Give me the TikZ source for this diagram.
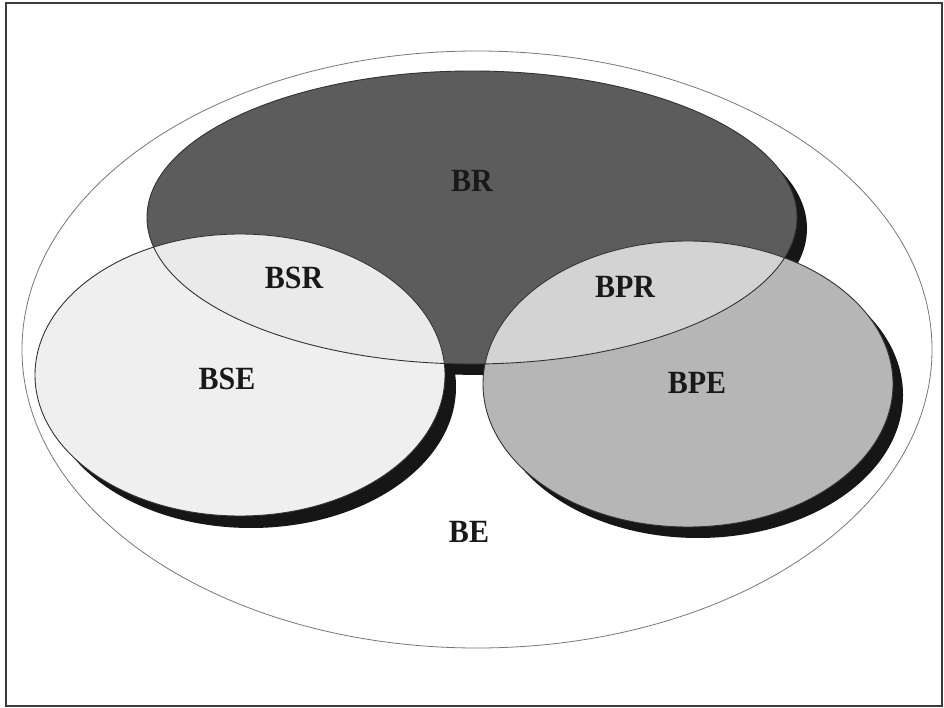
\documentclass[tikz,border=0pt]{standalone}
\usepackage{fontspec}
\setmainfont{Liberation Serif}
\definecolor{frameC}{RGB}{60,60,60}
\definecolor{outerC}{RGB}{120,120,120}
\definecolor{brC}{RGB}{92,92,92}
\definecolor{bseC}{RGB}{239,239,239}
\definecolor{bsrC}{RGB}{234,234,234}
\definecolor{bpeC}{RGB}{182,182,182}
\definecolor{bprC}{RGB}{211,211,211}
\definecolor{shadowC}{RGB}{22,22,22}
\begin{document}
\begin{tikzpicture}[x=1pt,y=-1pt,
  lbl/.style={font=\fontsize{30}{32}\selectfont\bfseries, text=black!90, inner sep=0pt, yscale=1.08},
  rim/.style={draw=black!80, line width=0.9pt}]
\useasboundingbox (0,0) rectangle (944,708);
\fill[white] (0,0) rectangle (944,708);
% frame
\draw[frameC, line width=1.3pt] (6,3) rectangle (942,706);
% outer ellipse BE
\draw[outerC, line width=0.8pt] (477,349.5) ellipse [x radius=455pt, y radius=298.5pt];
% shadows
\fill[shadowC] (482,228.5) ellipse [x radius=325pt, y radius=146.5pt];
\fill[shadowC] (251,387) ellipse [x radius=205pt, y radius=141pt];
\fill[shadowC] (698,395) ellipse [x radius=205pt, y radius=143pt];
% fills
\fill[brC] (472,217.5) ellipse [x radius=325pt, y radius=146.5pt];
\fill[bseC] (240,375) ellipse [x radius=205pt, y radius=141pt];
\fill[bpeC] (688,384) ellipse [x radius=205pt, y radius=143pt];
\begin{scope}
  \clip (472,217.5) ellipse [x radius=325pt, y radius=146.5pt];
  \fill[bsrC] (240,375) ellipse [x radius=205pt, y radius=141pt];
  \fill[bprC] (688,384) ellipse [x radius=205pt, y radius=143pt];
\end{scope}
% outlines
\draw[rim] (472,217.5) ellipse [x radius=325pt, y radius=146.5pt];
\draw[rim] (240,375) ellipse [x radius=205pt, y radius=141pt];
\draw[rim] (688,384) ellipse [x radius=205pt, y radius=143pt];
% labels
\node[lbl] (br)  at (472,181) {BR};
\node[lbl] (bsr) at (294,278) {BSR};
\node[lbl] (bpr) at (625,287) {BPR};
\node[lbl] (bse) at (227,379) {BSE};
\node[lbl] (bpe) at (697,383) {BPE};
\node[lbl] (be)  at (469,532) {BE};
\end{tikzpicture}
\end{document}
